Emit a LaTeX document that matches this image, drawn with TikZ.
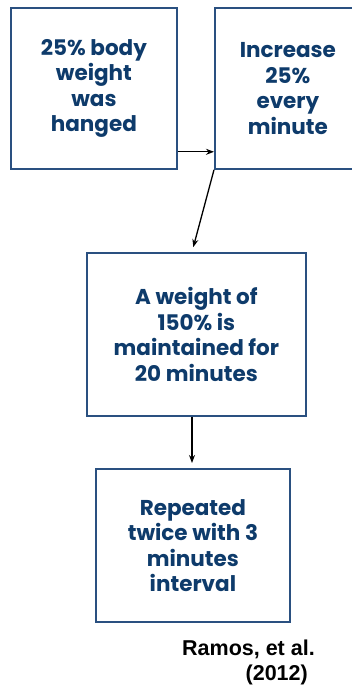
\documentclass[tikz,border=0pt]{standalone}
\usepackage{fontspec}
\setmainfont{Poppins}
\newfontfamily\refont{Liberation Sans}
\usetikzlibrary{arrows.meta,calc}
\definecolor{boxblue}{HTML}{2A5080}
\definecolor{textblue}{HTML}{0E3B6B}
\tikzset{
  stepbox/.style={draw=boxblue, line width=1.8pt, rectangle, anchor=north west, inner sep=0pt,
    text=textblue, align=center, font=\bfseries\fontsize{21.5}{25.5}\selectfont},
  reftext/.style={font=\refont\bfseries\fontsize{21.5}{28}\selectfont, anchor=base east, inner sep=0pt},
  conn/.style={line width=1.3pt, -{Stealth[length=8pt,width=6pt]}}
}
\begin{document}
\begin{tikzpicture}[x=1pt,y=-1pt]
\useasboundingbox (0,0) rectangle (352,686);
\clip (0,0) rectangle (352,686);
\fill[white] (0,0) rectangle (352,686);
\node[stepbox, minimum width=166pt, minimum height=161pt] (b1) at (10,7) {25\% body\\weight\\was\\hanged};
\node[stepbox, minimum width=146pt, minimum height=161pt] (b2) at (214,7) {Increase\\25\%\\every\\minute};
\node[stepbox, minimum width=219pt, minimum height=163pt] (b3) at (86,252) {A weight of\\150\% is\\maintained for\\20 minutes};
\node[stepbox, minimum width=194pt, minimum height=153pt] (b4) at (95,468) {Repeated\\twice with 3\\minutes\\interval};
\node[reftext] (cite1) at (315,655) {Ramos, et al.};
\node[reftext] (cite2) at (308,680) {(2012)};
\draw[conn] ($(b1.south east)+(0,-18)$) -- ($(b2.south west)+(0,-18)$);
\draw[conn, shorten >=5pt] (b2.south west) -- ($(b3.north west)+(106,0)$);
\draw[conn, shorten >=5pt] ($(b3.south west)+(106,0)$) -- ($(b4.north west)+(97,0)$);
\end{tikzpicture}
\end{document}
